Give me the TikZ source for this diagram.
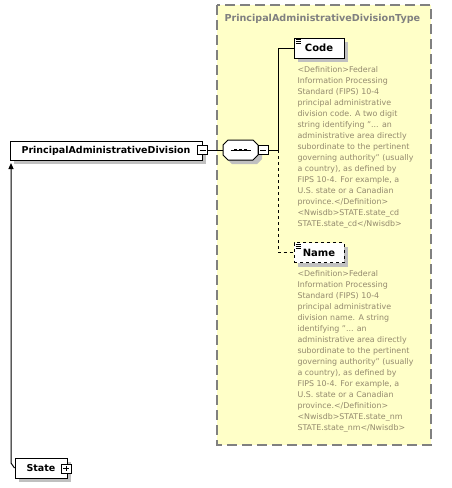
\documentclass[tikz,border=0pt]{standalone}
\usepackage{fontspec}
\setmainfont{DejaVu Sans}
\usetikzlibrary{arrows.meta}
\usetikzlibrary{positioning}
\usetikzlibrary{shadows}
\definecolor{typefill}{RGB}{255,255,200}
\definecolor{typeline}{RGB}{128,128,128}
\definecolor{shadowgray}{RGB}{192,192,192}
\definecolor{doctext}{RGB}{148,138,110}

\begin{document}
\begin{tikzpicture}[x=1pt,y=-1pt,line width=1pt]
\tikzset{
    elem/.style={
              rectangle,
                   draw,
                   fill=white,
                   inner sep=0pt,
                   font=\bfseries\fontsize{9.5}{11}\selectfont,
                   general shadow={fill=shadowgray, shadow xshift=4pt, shadow yshift=-4pt}
    },
    leafelem/.style={
              elem,
                   minimum width=50pt,
                   minimum height=20pt,
                   font=\bfseries\fontsize{10}{11}\selectfont
    },
    togglebox/.style={
              rectangle,
                   draw,
                   fill=white,
                   minimum width=10pt,
                   minimum height=9pt,
                   inner sep=0pt
    },
    minus/.style={
              togglebox,
                   path picture={\draw ([xshift=2pt]path picture bounding box.west) -- ([xshift=-2pt]path picture bounding box.east);}
    },
    plus/.style={
              togglebox,
                   path picture={\draw ([xshift=2pt]path picture bounding box.west) -- ([xshift=-2pt]path picture bounding box.east);
                                 \draw ([yshift=-2pt]path picture bounding box.north) -- ([yshift=2pt]path picture bounding box.south);}
    },
    doc/.style={
              anchor=north west,
                   inner sep=0pt,
                   align=left,
                   text=doctext,
                   font=\fontsize{7.9}{11}\selectfont
    }
}
    % complex type frame
    \draw[fill=typefill, draw=typeline, line width=1.5pt, dash pattern=on 10pt off 5pt] (217,5) rectangle (431,445);
    \node (title)[anchor=west, text=typeline, font=\bfseries\fontsize{9.6}{11}\selectfont, inner sep=0pt] at (224,19) {PrincipalAdministrativeDivisionType};

    \node (pad)[elem, minimum width=192pt, minimum height=19pt] at (106,150.5) {PrincipalAdministrativeDivision};
    \node (padminus)[minus] at (202.5,150) {};

    % sequence compositor
    \node (seq)[minimum width=35pt, minimum height=20pt, inner sep=0pt] at (240.5,150) {};
    \fill[shadowgray, shift={(seq.center)}, xshift=4pt, yshift=-4pt] (-17.5,-5) -- (-12.5,-10) -- (12.5,-10) -- (17.5,-5) -- (17.5,5) -- (12.5,10) -- (-12.5,10) -- (-17.5,5) -- cycle;
    \draw[fill=white, shift={(seq.center)}] (-17.5,-5) -- (-12.5,-10) -- (12.5,-10) -- (17.5,-5) -- (17.5,5) -- (12.5,10) -- (-12.5,10) -- (-17.5,5) -- cycle;
    \draw (seq.center) ++(-10,0) -- ++(20,0);
    \foreach \dx in {-5,0,5}
        \fill[shift={(seq.center)}] (\dx-1.5,-1.2) rectangle (\dx+1.5,1.2);
    \node (seqminus)[minus] at (263,150) {};
    \coordinate (fork) at (278,150);

    \node (code)[leafelem] at (319,48) {Code};
    \node (name)[leafelem, dashed] at (319,252.5) {Name};
    \foreach \dy in {2,4,6} {
        \draw[line width=0.8pt] ([shift={(2,\dy)}]code.north west) -- ++(5,0);
        \draw[line width=0.8pt] ([shift={(2,\dy)}]name.north west) -- ++(5,0);
    }

    \node (codedoc)[doc] at (297,65.5) {<Definition>Federal\\Information Processing\\Standard (FIPS) 10-4\\principal administrative\\division code. A two digit\\string identifying "... an\\administrative area directly\\subordinate to the pertinent\\governing authority" (usually\\a country), as defined by\\FIPS 10-4. For example, a\\U.S. state or a Canadian\\province.</Definition>\\<Nwisdb>STATE.state\_cd\\STATE.state\_cd</Nwisdb>};
    \node (namedoc)[doc] at (297,269.5) {<Definition>Federal\\Information Processing\\Standard (FIPS) 10-4\\principal administrative\\division name. A string\\identifying "... an\\administrative area directly\\subordinate to the pertinent\\governing authority" (usually\\a country), as defined by\\FIPS 10-4. For example, a\\U.S. state or a Canadian\\province.</Definition>\\<Nwisdb>STATE.state\_nm\\STATE.state\_nm</Nwisdb>};

    \node (state)[elem, minimum width=52pt, minimum height=20pt] at (41,468) {State};
    \node (stateplus)[plus] at (66,468.5) {};
    \coordinate (bend) at (11,463);
    \coordinate (padtip) at (11,163);

    \draw (padminus) -- (seq);
    \draw (seqminus) -- (fork);
    \draw (fork) |- (code);
    \draw[dashed] (fork) |- (name);
    \draw[-{Triangle[length=6pt,width=5pt]}] (state.west) -- (bend) -- (padtip);

    \useasboundingbox (0,0) rectangle (452,488);
\end{tikzpicture}
\end{document}
